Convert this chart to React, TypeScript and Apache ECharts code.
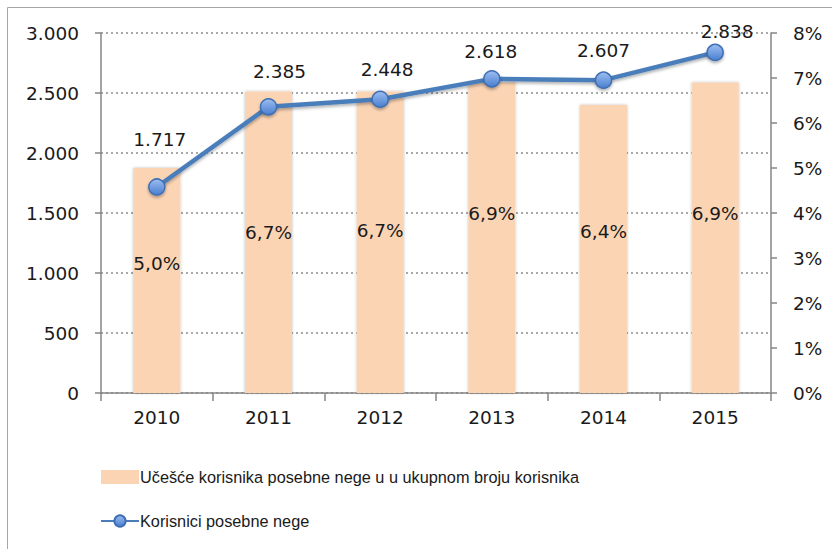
import React, { useEffect, useRef } from "react";
import * as echarts from "echarts";

const years = ["2010", "2011", "2012", "2013", "2014", "2015"];
const shareValues = [5.0, 6.7, 6.7, 6.9, 6.4, 6.9];
const userCounts = [1717, 2385, 2448, 2618, 2607, 2838];
const leftTicks = [0, 500, 1000, 1500, 2000, 2500, 3000];
const shareName = "Učešće korisnika posebne nege u u ukupnom broju korisnika";
const countName = "Korisnici posebne nege";

const numFont = "DejaVu Sans";
const txtFont = "Liberation Sans";
const numSize = 18.5;

const fmtThousands = (v: number) => {
  const s = String(Math.round(v));
  return s.replace(/\B(?=(\d{3})+(?!\d))/g, ".");
};

export default function App() {
  const ref = useRef<HTMLDivElement>(null);
  useEffect(() => {
    if (!ref.current) return;
    const chart = echarts.init(ref.current, undefined, { renderer: "svg" });
    const lineNudge = [[3, -20], [11, -8], [7, -2], [-1, 0], [0, -2], [12, 6]];
    const barNudge = [-17, -10, -12, -24, -18, -24];
    chart.setOption({
      animation: false,
      backgroundColor: "#ffffff",
      graphic: [
        {
          type: "rect",
          shape: { x: 7.5, y: 7.5, width: 840, height: 560 },
          style: { fill: "none", stroke: "#a6a6a6", lineWidth: 1 },
          silent: true,
        },
      ],
      grid: { left: 101, right: 61, top: 33, bottom: 156, containLabel: false },
      legend: {
        orient: "vertical",
        left: 95,
        top: 464,
        itemGap: 28,
        itemWidth: 38,
        itemHeight: 14,
        textStyle: { fontFamily: txtFont, fontSize: 16.3, color: "#1a1a1a", padding: [0, 0, 0, -4] },
        data: [
          { name: shareName, icon: "rect" },
          { name: countName },
        ],
      },
      xAxis: {
        type: "category",
        data: years,
        boundaryGap: true,
        axisLine: { show: true, lineStyle: { color: "#868686", width: 1.5 } },
        axisTick: { show: true, length: 8, lineStyle: { color: "#868686", width: 1.5 } },
        axisLabel: { fontFamily: numFont, fontSize: numSize, color: "#1a1a1a", margin: 15 },
        splitLine: { show: false },
      },
      yAxis: [
        {
          type: "value",
          min: leftTicks[0],
          max: leftTicks[leftTicks.length - 1],
          interval: 500,
          axisLine: { show: true, lineStyle: { color: "#868686", width: 1.5 } },
          axisTick: { show: true, inside: false, length: 6, lineStyle: { color: "#868686", width: 1.5 } },
          axisLabel: { fontFamily: numFont, fontSize: numSize, color: "#1a1a1a", margin: 22, formatter: (v: number) => fmtThousands(v) },
          splitLine: { show: true, lineStyle: { color: "#8c8c8c", type: [2, 3], width: 1.5 } },
        },
        {
          type: "value",
          min: 0,
          max: 8,
          interval: 1,
          position: "right",
          axisLine: { show: true, lineStyle: { color: "#868686", width: 1.5 } },
          axisTick: { show: true, length: 6, lineStyle: { color: "#868686", width: 1.5 } },
          axisLabel: { fontFamily: numFont, fontSize: numSize, color: "#1a1a1a", margin: 22, formatter: (v: number) => v + "%" },
          splitLine: { show: false },
        },
      ],
      series: [
        {
          name: shareName,
          type: "bar",
          yAxisIndex: 1,
          barWidth: 47,
          data: shareValues.map((v, i) => ({ value: v, label: { offset: [0, barNudge[i]] } })),
          itemStyle: {
            color: "#fbd4b4",
            shadowColor: "rgba(0,0,0,0.25)",
            shadowBlur: 3,
          },
          label: {
            show: true,
            position: "inside",
            fontFamily: numFont,
            fontSize: numSize,
            color: "#1a1a1a",
            formatter: (p: any) => p.value.toFixed(1).replace(".", ",") + "%",
          },
          z: 2,
        },
        {
          name: countName,
          type: "line",
          yAxisIndex: 0,
          data: userCounts.map((v, i) => ({ value: v, label: { offset: lineNudge[i] } })),
          symbol: "circle",
          symbolSize: 16,
          lineStyle: {
            color: "#4a7ebb",
            width: 4.5,
            shadowColor: "rgba(0,0,0,0.3)",
            shadowBlur: 3,
            shadowOffsetY: 2,
          },
          itemStyle: {
            color: new echarts.graphic.LinearGradient(0, 0, 0, 1, [
              { offset: 0, color: "#9dbdf0" },
              { offset: 1, color: "#4a7fd0" },
            ]),
            borderColor: "#3f6fb3",
            borderWidth: 1.5,
            shadowColor: "rgba(0,0,0,0.3)",
            shadowBlur: 3,
            shadowOffsetY: 2,
          },
          label: {
            show: true,
            position: "top",
            distance: 9,
            fontFamily: numFont,
            fontSize: numSize,
            color: "#1a1a1a",
            formatter: (p: any) => fmtThousands(p.value),
          },
          z: 5,
        },
      ],
    });
    return () => chart.dispose();
  }, []);
  return (
    <div
      ref={ref}
      style={{ position: "fixed", left: 0, top: 0, width: 832, height: 549 }}
    />
  );
}
